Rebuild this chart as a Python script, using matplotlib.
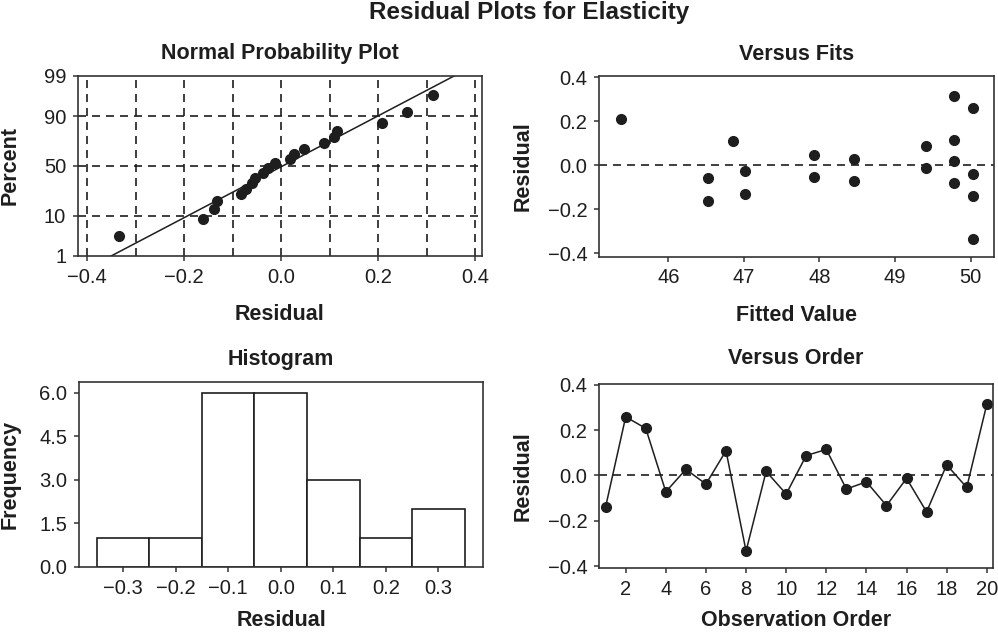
import numpy as np
import matplotlib
matplotlib.use("Agg")
import matplotlib.pyplot as plt
from statistics import NormalDist

plt.rcParams['font.family'] = ['Liberation Sans', 'DejaVu Sans']
plt.rcParams['axes.unicode_minus'] = True

# residuals in observation order
residuals = [-0.138, 0.259, 0.208, -0.072, 0.027, -0.038, 0.109, -0.334, 0.018, -0.082,
             0.088, 0.115, -0.060, -0.028, -0.133, -0.013, -0.161, 0.047, -0.053, 0.314]
# fitted values, same order
fitted = [50.03, 50.03, 45.38, 48.46, 48.46, 50.03, 46.86, 50.03, 49.78, 49.78,
          49.41, 49.78, 46.53, 47.01, 47.01, 49.41, 46.53, 47.93, 47.93, 49.78]
order = list(range(1, 21))

pct_ticks = [1, 10, 50, 90, 99]
hist_edges = [-0.35, -0.25, -0.15, -0.05, 0.05, 0.15, 0.25, 0.35]

W, H = 998, 632
INK = '#1e1e1e'
TICK_FS = 14.5
LAB_FS = 15.5
MS = 7
nd = NormalDist()


def ax_px(fig, left, right, top, bottom):
    ax = fig.add_axes([left / W, 1 - bottom / H, (right - left) / W, (bottom - top) / H])
    ax._px = (left, right, top, bottom)
    return ax


def style(ax):
    for s in ax.spines.values():
        s.set_color('#333333')
        s.set_linewidth(1.2)
    ax.tick_params(direction='out', length=3.5, width=1.1, colors='#333333',
                   labelcolor=INK, labelsize=TICK_FS, pad=5)


def labels(ax, title, xlab, ylab, title_y, xlab_y, ylab_x):
    # positions given in figure pixels
    left, right, top, bottom = ax._px
    w, h = right - left, bottom - top
    ax.text(0.5, (bottom - title_y) / h, title, transform=ax.transAxes,
            ha='center', va='center', fontsize=LAB_FS, fontweight='bold', color=INK)
    ax.set_xlabel(xlab, fontsize=LAB_FS, fontweight='bold', color=INK, va='center')
    ax.xaxis.set_label_coords(0.5, (bottom - xlab_y) / h)
    ax.set_ylabel(ylab, fontsize=LAB_FS, fontweight='bold', color=INK, va='center')
    ax.yaxis.set_label_coords((ylab_x - left) / w, 0.5)


def signed(vals, fmt):
    return [(fmt % v).replace('-', '\u2212') if abs(v) > 1e-9 else fmt % 0 for v in vals]


def main():
    fig = plt.figure(figsize=(W / 100, H / 100), dpi=100)
    fig.text(529 / W, 1 - 13 / H, 'Residual Plots for Elasticity', ha='center', va='center',
             fontsize=17.5, fontweight='bold', color=INK)

    res = np.array(residuals)
    n = len(res)
    dash = dict(color=INK, lw=1.2, ls=(0, (4.8, 3.6)))

    # --- normal probability plot
    ax = ax_px(fig, 78, 482, 75.7, 256)
    style(ax)
    srt = np.sort(res)
    p = (np.arange(1, n + 1) - 0.3) / (n + 0.4)
    z = np.array([nd.inv_cdf(v) for v in p])
    zlo, zhi = nd.inv_cdf(0.01), nd.inv_cdf(0.99)
    for xv in np.arange(-0.4, 0.41, 0.1):
        ax.axvline(xv, **dash)
    for pv in pct_ticks[1:-1]:
        ax.axhline(nd.inv_cdf(pv / 100), **dash)
    mu, sd = res.mean(), res.std(ddof=1)
    zz = np.array([zlo - 0.5, zhi + 0.5])
    ax.plot(mu + sd * zz, zz, color=INK, lw=1.1)
    ax.plot(srt, z, 'o', color=INK, ms=MS)
    ax.set_xlim(-0.4185, 0.414)
    ax.set_ylim(zlo, zhi)
    ax.set_yticks([nd.inv_cdf(v / 100) for v in pct_ticks])
    ax.set_yticklabels([str(v) for v in pct_ticks])
    xt = [-0.4, -0.2, 0.0, 0.2, 0.4]
    ax.set_xticks(xt)
    ax.set_xticklabels(signed(xt, '%.1f'))
    labels(ax, 'Normal Probability Plot', 'Residual', 'Percent', 54, 315, 10)

    # --- versus fits
    ax = ax_px(fig, 599.3, 994, 75.7, 256.5)
    style(ax)
    ax.axhline(0, **dash)
    ax.plot(fitted, residuals, 'o', color=INK, ms=MS)
    ax.set_xlim(45.087, 50.31)
    ax.set_ylim(-0.415, 0.407)
    ax.set_xticks([46, 47, 48, 49, 50])
    yt = [-0.4, -0.2, 0.0, 0.2, 0.4]
    ax.set_yticks(yt)
    ax.set_yticklabels(signed(yt, '%.1f'))
    labels(ax, 'Versus Fits', 'Fitted Value', 'Residual', 54, 315, 523)

    # --- histogram
    ax = ax_px(fig, 79, 483, 382.3, 566.7)
    style(ax)
    ax.hist(res, bins=hist_edges, color='white', edgecolor=INK, linewidth=1.2)
    ax.set_xlim(-0.384, 0.385)
    ax.set_ylim(0, 6.36)
    ht = [-0.3, -0.2, -0.1, 0.0, 0.1, 0.2, 0.3]
    ax.set_xticks(ht)
    ax.set_xticklabels(signed(ht, '%.1f'))
    ax.set_yticks([0.0, 1.5, 3.0, 4.5, 6.0])
    ax.set_yticklabels(['0.0', '1.5', '3.0', '4.5', '6.0'])
    labels(ax, 'Histogram', 'Residual', 'Frequency', 359, 621, 10)

    # --- versus order
    ax = ax_px(fig, 599.3, 993, 384, 568.3)
    style(ax)
    ax.axhline(0, **dash)
    ax.plot(order, residuals, '-o', color=INK, ms=MS, lw=1.1)
    ax.set_xlim(0.684, 20.31)
    ax.set_ylim(-0.41, 0.404)
    ax.set_xticks(range(2, 21, 2))
    ax.set_yticks(yt)
    ax.set_yticklabels(signed(yt, '%.1f'))
    labels(ax, 'Versus Order', 'Observation Order', 'Residual', 359, 621, 523)

    fig.savefig('out.png', dpi=100)


if __name__ == "__main__":
    main()
